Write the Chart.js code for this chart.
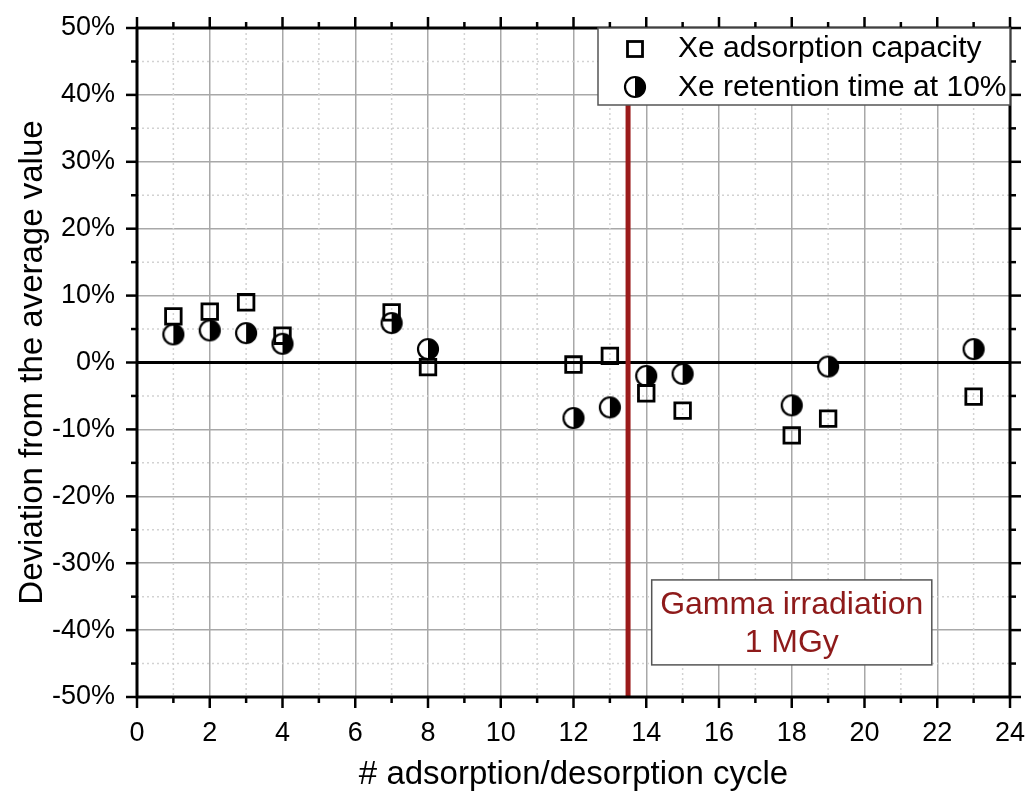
<!DOCTYPE html>
<html lang="en">
<head>
  <meta charset="UTF-8" />
  <title>Deviation from the average value</title>
  <script src="https://cdn.jsdelivr.net/npm/chart.js"></script>
  <style>
    html, body { margin: 0; padding: 0; background: #fff; }
    .chart-container {
      width: 1028px;
      height: 795px;
      position: relative;
    }
  </style>
</head>
<body>
  <div class="chart-container">
    <canvas id="devChart"></canvas>
  </div>

  <script>
    // data (deviation in %)
    const cycles = [1, 2, 3, 4, 7, 8, 12, 13, 14, 15, 18, 19, 23];
    const capacityDev = [6.9, 7.6, 9.0, 4.0, 7.5, -0.7, -0.3, 1.0, -4.6, -7.2, -10.9, -8.4, -5.1];
    const retentionDev = [4.2, 4.8, 4.4, 2.8, 5.9, 2.0, -8.3, -6.7, -2.0, -1.7, -6.4, -0.6, 2.0];
    const seriesLabels = ["Xe adsorption capacity", "Xe retention time at 10%"];
    const irradiationCycle = 13.5;
    const noteLines = ["Gamma irradiation", "1 MGy"];

    const FONT = "'Liberation Sans', Arial, sans-serif";
    const DARK_RED = "#9b1b1b";
    Chart.defaults.font.family = FONT;
    Chart.defaults.color = "#000";

    /**
     * Circle marker with the right half filled black.
     */
    function halfCircle(r) {
      const c = document.createElement("canvas");
      const s = Math.ceil(r * 2 + 4);
      c.width = s;
      c.height = s;
      const g = c.getContext("2d");
      const m = s / 2;
      g.fillStyle = "#fff";
      g.beginPath(); g.arc(m, m, r, 0, Math.PI * 2); g.fill();
      g.fillStyle = "#000";
      g.beginPath(); g.arc(m, m, r, -Math.PI / 2, Math.PI / 2); g.closePath(); g.fill();
      g.lineWidth = 2.2;
      g.strokeStyle = "#000";
      g.beginPath(); g.arc(m, m, r, 0, Math.PI * 2); g.stroke();
      return c;
    }
    const halfMarker = halfCircle(10);

    function line(ctx, x1, y1, x2, y2) {
      ctx.beginPath();
      ctx.moveTo(x1, y1);
      ctx.lineTo(x2, y2);
      ctx.stroke();
    }

    // minor grid, zero line, irradiation line, frame, ticks, legend and note box
    const decorPlugin = {
      id: "decor",
      beforeDatasetsDraw(chart) {
        const { ctx, chartArea: a, scales: { x, y } } = chart;
        ctx.save();
        ctx.strokeStyle = "#d2d2d2";
        ctx.lineWidth = 1.5;
        ctx.setLineDash([2, 3]);
        x.ticks.forEach((t) => {
          if (t.value % 2 !== 0) {
            const px = x.getPixelForValue(t.value);
            line(ctx, px, a.top, px, a.bottom);
          }
        });
        y.ticks.forEach((t) => {
          if (t.value % 10 !== 0) {
            const py = y.getPixelForValue(t.value);
            line(ctx, a.left, py, a.right, py);
          }
        });
        ctx.setLineDash([]);

        // zero line
        ctx.strokeStyle = "#000";
        ctx.lineWidth = 3;
        const y0 = y.getPixelForValue(0);
        line(ctx, a.left, y0, a.right, y0);

        // irradiation marker
        ctx.strokeStyle = DARK_RED;
        ctx.lineWidth = 5;
        const xi = x.getPixelForValue(irradiationCycle);
        line(ctx, xi, a.top, xi, a.bottom);
        ctx.restore();
      },
      afterDatasetsDraw(chart) {
        const { ctx, chartArea: a, scales: { x, y } } = chart;
        ctx.save();

        // ticks on all four sides, pointing outward
        ctx.strokeStyle = "#000";
        ctx.lineWidth = 2.5;
        x.ticks.forEach((t) => {
          const len = t.value % 2 === 0 ? 11 : 6;
          const px = x.getPixelForValue(t.value);
          line(ctx, px, a.bottom, px, a.bottom + len);
          line(ctx, px, a.top, px, a.top - len);
        });
        y.ticks.forEach((t) => {
          const len = t.value % 10 === 0 ? 11 : 6;
          const py = y.getPixelForValue(t.value);
          line(ctx, a.left, py, a.left - len, py);
          line(ctx, a.right, py, a.right + len, py);
        });

        // frame
        ctx.lineWidth = 3;
        ctx.strokeRect(a.left, a.top, a.right - a.left, a.bottom - a.top);

        // legend box (top right, inside plot)
        const lw = 412, lh = 77;
        const lx = a.right - lw, ly = a.top;
        ctx.fillStyle = "#fff";
        ctx.fillRect(lx, ly, lw, lh);
        ctx.strokeStyle = "#555";
        ctx.lineWidth = 1.5;
        ctx.strokeRect(lx, ly, lw, lh);

        ctx.strokeStyle = "#000";
        ctx.lineWidth = 2.8;
        ctx.strokeRect(lx + 37 - 7.5, ly + 21 - 7.5, 15, 15);
        ctx.drawImage(halfMarker, lx + 37 - halfMarker.width / 2, ly + 59 - halfMarker.height / 2);

        ctx.fillStyle = "#000";
        ctx.font = "30px " + FONT;
        ctx.textBaseline = "middle";
        ctx.textAlign = "left";
        const ds = chart.data.datasets;
        ctx.fillText(ds[0].label, lx + 80, ly + 21);
        ctx.fillText(ds[1].label, lx + 80, ly + 60);

        // note box
        const nl = x.getPixelForValue(14.15), nr = x.getPixelForValue(21.85);
        const nt = y.getPixelForValue(-32.5), nb = y.getPixelForValue(-45.2);
        ctx.fillStyle = "#fff";
        ctx.fillRect(nl, nt, nr - nl, nb - nt);
        ctx.strokeStyle = "#555";
        ctx.lineWidth = 1.5;
        ctx.strokeRect(nl, nt, nr - nl, nb - nt);
        ctx.fillStyle = "#8e1a1a";
        ctx.font = "32px " + FONT;
        ctx.textAlign = "center";
        ctx.fillText(noteLines[0], (nl + nr) / 2, nt + 25);
        ctx.fillText(noteLines[1], (nl + nr) / 2, nt + 63);

        ctx.restore();
      },
    };

    const toPoints = (vals) => vals.map((v, i) => ({ x: cycles[i], y: v }));

    new Chart(document.getElementById("devChart").getContext("2d"), {
      type: "scatter",
      data: {
        datasets: [
          {
            label: seriesLabels[0],
            data: toPoints(capacityDev),
            pointStyle: "rect",
            pointRadius: 11,
            pointHoverRadius: 11,
            borderColor: "#000",
            backgroundColor: "rgba(0,0,0,0)",
            borderWidth: 2.8,
          },
          {
            label: seriesLabels[1],
            data: toPoints(retentionDev),
            pointStyle: halfMarker,
            pointRadius: 10,
            pointHoverRadius: 10,
          },
        ],
      },
      options: {
        responsive: true,
        maintainAspectRatio: false,
        animation: false,
        layout: { padding: { top: 28, right: 18, left: 0, bottom: 0 } },
        plugins: {
          legend: { display: false },
          tooltip: { enabled: false },
        },
        scales: {
          x: {
            type: "linear",
            min: 0,
            max: 24,
            afterFit: (s) => {
              s.height = 98;
              s.paddingLeft = 0;
              s.paddingRight = 0;
            },
            ticks: {
              stepSize: 1,
              autoSkip: false,
              maxRotation: 0,
              padding: 20,
              font: { size: 27 },
              callback: (v) => (v % 2 === 0 ? v : ""),
            },
            grid: {
              drawTicks: false,
              lineWidth: 1.5,
              color: (c) => (c.tick && c.tick.value % 2 === 0 ? "#a8a8a8" : "rgba(0,0,0,0)"),
            },
            border: { display: false },
            title: {
              display: true,
              text: "# adsorption/desorption cycle",
              font: { size: 33 },
              padding: { top: 0, bottom: 0 },
            },
          },
          y: {
            min: -50,
            max: 50,
            afterFit: (s) => {
              s.width = 137;
              s.paddingTop = 0;
              s.paddingBottom = 0;
            },
            ticks: {
              stepSize: 5,
              autoSkip: false,
              padding: 22,
              font: { size: 27 },
              callback: (v) => (v % 10 === 0 ? v + "%" : ""),
            },
            grid: {
              drawTicks: false,
              lineWidth: 1.5,
              color: (c) => (c.tick && c.tick.value % 10 === 0 ? "#a8a8a8" : "rgba(0,0,0,0)"),
            },
            border: { display: false },
            title: {
              display: true,
              text: "Deviation from the average value",
              font: { size: 33 },
              padding: { top: 13, bottom: 0 },
            },
          },
        },
      },
      plugins: [decorPlugin],
    });
  </script>
</body>
</html>
